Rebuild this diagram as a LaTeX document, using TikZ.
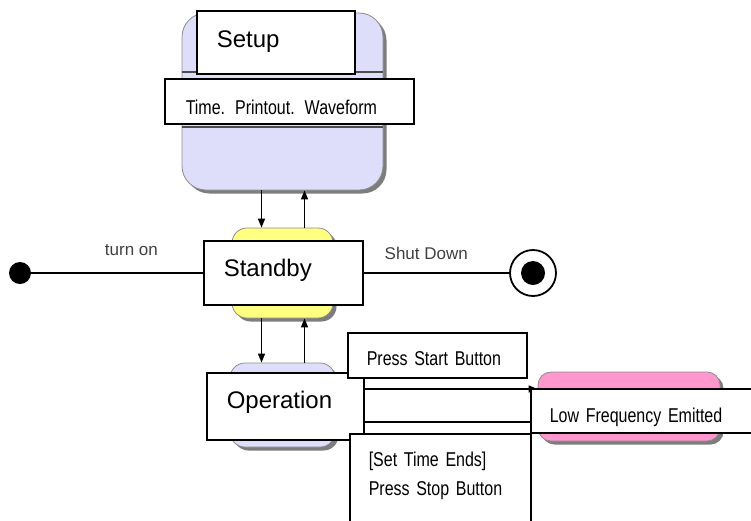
\documentclass[tikz,border=0pt]{standalone}
\usepackage{fontspec}
\setmainfont{Liberation Sans}
\newfontfamily\narrowsans[FakeStretch=0.8,WordSpace=0.6]{Liberation Sans}
\usepackage{tikz}
\usetikzlibrary{arrows.meta,positioning,shadows}
\definecolor{lavender}{RGB}{222,222,250}
\definecolor{lemon}{RGB}{255,255,130}
\definecolor{rosy}{RGB}{255,150,205}
\tikzset{state/.style={rectangle,draw=black!45,line width=0.8pt,drop shadow={shadow xshift=3.5pt,shadow yshift=-3.5pt,fill=black!60,opacity=0.85}}}
\tikzset{tag/.style={rectangle,draw=black,fill=white,line width=1.5pt,anchor=north west,align=left,inner ysep=0pt}}
\tikzset{bigtag/.style={tag,inner xsep=20pt,font=\fontsize{24}{28}\selectfont,text height=18pt}}
\tikzset{smalltag/.style={tag,inner xsep=19pt,font=\narrowsans\fontsize{20}{29}\selectfont,text depth=0pt}}
\tikzset{conn/.style={line width=1.3pt,>={Triangle[width=7pt,length=9pt]}}}
\tikzset{trlabel/.style={text=black!75,font=\fontsize{17}{20}\selectfont}}

\begin{document}
\begin{tikzpicture}[x=1pt,y=-1pt]
\path[use as bounding box,clip] (0,0) rectangle (751,520);
% states
\node (setupst) [state,fill=lavender,rounded corners=24pt,minimum width=201pt,minimum height=177pt] at (282.5,101.5) {};
\node (standbyst) [state,fill=lemon,rounded corners=15pt,minimum width=101pt,minimum height=90pt] at (282.5,273) {};
\node (operst) [state,fill=lavender,rounded corners=15pt,minimum width=105pt,minimum height=84pt] at (282.5,405) {};
\node (emitst) [state,fill=rosy,rounded corners=13pt,minimum width=182pt,minimum height=69pt] at (629,406.5) {};
\node (init) [circle,fill=black,inner sep=0pt,minimum size=22pt] at (20,273) {};
\node (final) [circle,draw=black,line width=1.8pt,inner sep=0pt,minimum size=46pt,
  path picture={\fill[black] (path picture bounding box.center) circle (12pt);}] at (533,273) {};
%
\draw[black!70,line width=1.5pt] (setupst.west |- 0,72) -- (setupst.east |- 0,72);
\draw[black!70,line width=1.5pt] (setupst.west |- 0,127) -- (setupst.east |- 0,127);

% transitions
\path[->,conn] ([xshift=-21pt]setupst.south) edge ([xshift=-21pt]standbyst.north);
\path[->,conn] ([xshift=22pt]standbyst.north) edge ([xshift=22pt]setupst.south);
\path[->,conn] ([xshift=-21pt]standbyst.south) edge ([xshift=-21pt]operst.north);
\path[->,conn] ([xshift=22pt]operst.north) edge ([xshift=22pt]standbyst.south);
\path[->,conn] (init) edge node[trlabel,above=13pt] {turn on} (standbyst);
\path[conn] (standbyst) edge node[trlabel,above=9pt,xshift=5pt] {Shut Down} (final);
\coordinate (opout) at ([yshift=16pt]operst.east);
\coordinate (opin) at ([yshift=-17pt]operst.east);
\draw[->,conn] (opout) -- (opout -| emitst.west);
\draw[->,conn] (opin -| emitst.west) -- (opin);

% white boxes on top
\node (setuptag) [bigtag,text width=118pt,minimum height=63pt,text depth=7.8pt] at (196,10) {Setup};
\node (timetag) [smalltag,inner xsep=21pt,text width=207pt,minimum height=45pt,text height=27.3pt] at (164,78) {Time. Printout. Waveform};
\node (standbytag) [bigtag,text width=119pt,minimum height=64pt,text depth=10.8pt] at (203,240) {Standby};
\node (opertag) [bigtag,text width=117pt,minimum height=67pt,text depth=13.8pt] at (206,372) {Operation};
\node (starttag) [smalltag,text width=141pt,minimum height=45pt,text height=21.3pt] at (347,332) {Press Start Button};
\node (lowtag) [smalltag,text width=222pt,minimum height=44pt,text height=24.3pt] at (530,388) {Low Frequency Emitted};
\node (stoptag) [smalltag,text width=143pt,text height=33pt,text depth=80pt] at (349,433) {[Set Time Ends]\\Press Stop Button};
\end{tikzpicture}
\end{document}
